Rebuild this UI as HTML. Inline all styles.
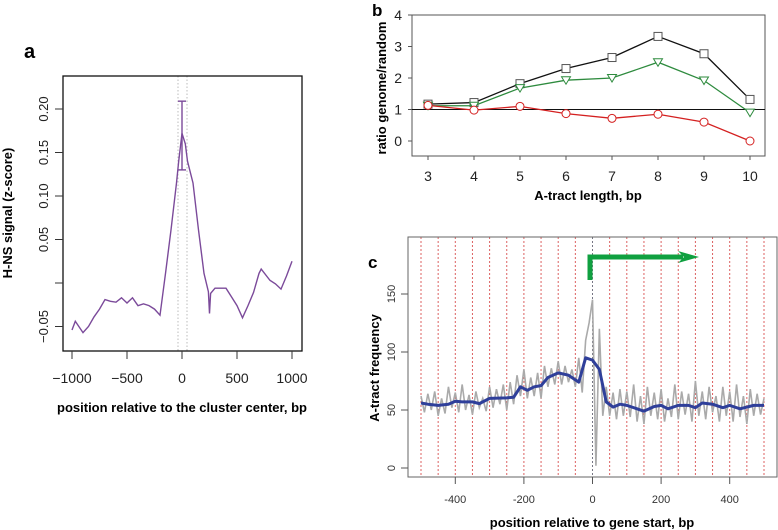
<!DOCTYPE html>
<html><head><meta charset="utf-8"><style>
body{margin:0;background:#fff}
svg{display:block;font-family:"Liberation Sans",Arial,sans-serif}
</style></head><body>
<svg id="fig" width="778" height="530" viewBox="0 0 778 530"></svg>
<script>
// ---- Panel a data ----
const aX=[-1000,-970,-900,-850,-800,-750,-700,-650,-600,-550,-500,-450,-400,-350,-300,-250,-200,-150,-100,-50,-30,0,30,50,100,150,200,240,250,260,300,350,400,450,500,550,600,650,700,720,800,850,900,950,1000];
const aY=[-0.054,-0.044,-0.057,-0.05,-0.039,-0.03,-0.019,-0.021,-0.022,-0.017,-0.023,-0.017,-0.026,-0.024,-0.026,-0.03,-0.037,0.011,0.061,0.115,0.14,0.172,0.16,0.14,0.115,0.061,0.011,-0.01,-0.035,-0.012,-0.006,-0.006,-0.006,-0.016,-0.026,-0.04,-0.026,-0.011,0.011,0.016,0.003,-0.001,-0.007,0.008,0.025];
const aTicksX=[-1000,-500,0,500,1000];
const aTicksY=[-0.05,0.05,0.10,0.15,0.20];
const aErr=[0.13,0.209];
// ---- Panel b data ----
const bCats=[3,4,5,6,7,8,9,10];
const bBlack=[1.17,1.22,1.82,2.3,2.65,3.32,2.77,1.32];
const bGreen=[1.12,1.12,1.68,1.93,2.0,2.5,1.92,0.9];
const bRed=[1.13,0.98,1.1,0.87,0.72,0.85,0.6,0.0];
const bTicksY=[0,1,2,3,4];
// ---- Panel c data ----
const cBlueX=[-500,-480,-450,-420,-400,-380,-350,-330,-300,-250,-230,-210,-190,-170,-150,-130,-100,-70,-40,-20,0,20,40,60,80,100,150,180,200,220,250,280,300,320,350,380,400,430,470,500];
const cBlueY=[56,55,54,55,57.5,57,57,55.5,60,60.5,61,70,67,70,71,78,82,80,74,95,93,85,57,52.5,55,54,49,53,54,51,54,54,52,56,55,52,54,51,54,54];
const cGray=[62,48,64,50,66,45,60,47,70,52,65,48,72,50,63,46,66,52,60,49,70,52,68,55,72,50,74,55,80,62,85,60,78,62,82,60,88,70,86,72,92,72,88,74,85,70,95,65,110,125,
145,2,120,45,70,45,65,42,68,45,66,44,72,40,62,38,70,45,65,42,68,40,60,44,72,42,66,46,64,40,75,45,66,42,70,48,62,40,70,45,66,40,72,44,62,38,68,45,64,46,60];
const cTicksX=[-400,-200,0,200,400];
const cTicksY=[0,50,100,150];

const NS="http://www.w3.org/2000/svg";
const svg=document.getElementById('fig');
function el(tag,attrs,parent,text){const e=document.createElementNS(NS,tag);for(const k in attrs)e.setAttribute(k,attrs[k]);if(text!==undefined)e.textContent=text;(parent||svg).appendChild(e);return e;}

// ===== Panel a =====
const ga=el('g',{});


const ax=v=>182+v*0.11, ay=v=>283-v*870;
let t=el('text',{x:24,y:58,'font-size':20,'font-weight':'bold'},ga,'a');

el('line',{x1:178,y1:76,x2:178,y2:351,stroke:'#bbb','stroke-dasharray':'1.5,2'},ga);
el('line',{x1:187,y1:76,x2:187,y2:351,stroke:'#bbb','stroke-dasharray':'1.5,2'},ga);
let r=el('rect',{x:63,y:76,width:239,height:275,fill:'none',stroke:'#111','stroke-width':1.3},ga);

aTicksX.forEach(v=>{el('line',{x1:ax(v),y1:351,x2:ax(v),y2:359,stroke:'#333'},ga);
 const tt=el('text',{x:ax(v),y:383,'font-size':14,'text-anchor':'middle',fill:'#222'},ga,v===-1000?'\u22121000':v===-500?'\u2212500':String(v));
 });
el('line',{x1:55,y1:ay(0),x2:63,y2:ay(0),stroke:'#333'},ga);
aTicksY.forEach(v=>{el('line',{x1:55,y1:ay(v),x2:63,y2:ay(v),stroke:'#333'},ga);
 const tt=el('text',{x:0,y:0,'font-size':13,'text-anchor':'middle',fill:'#222',transform:`translate(48,${ay(v)}) rotate(-90)`},ga,v<0?'\u22120.05':v.toFixed(2));
 });
let pa=el('polyline',{points:aX.map((x,i)=>ax(x)+','+ay(aY[i])).join(' '),fill:'none',stroke:'#7b4a9a','stroke-width':1.4},ga);

const eb=el('g',{stroke:'#7b4a9a','stroke-width':1.4},ga);

el('line',{x1:ax(0),y1:ay(aErr[0]),x2:ax(0),y2:ay(aErr[1])},eb);
el('line',{x1:ax(0)-4,y1:ay(aErr[0]),x2:ax(0)+4,y2:ay(aErr[0])},eb);
el('line',{x1:ax(0)-4,y1:ay(aErr[1]),x2:ax(0)+4,y2:ay(aErr[1])},eb);
t=el('text',{x:0,y:0,'font-size':13,'font-weight':'bold','text-anchor':'middle',transform:'translate(12,213) rotate(-90)'},ga,'H-NS signal (z-score)');

t=el('text',{x:182,y:412,'font-size':13,'font-weight':'bold','text-anchor':'middle'},ga,'position relative to the cluster center, bp');


// ===== Panel b =====
const gb=el('g',{});


const bx=v=>428+(v-3)*46, by=v=>141-v*31.5;
t=el('text',{x:372,y:16,'font-size':17,'font-weight':'bold'},gb,'b');

r=el('rect',{x:412,y:15,width:353,height:141,fill:'none',stroke:'#555','stroke-width':1},gb);

bTicksY.forEach(v=>{el('line',{x1:408,y1:by(v),x2:412,y2:by(v),stroke:'#555'},gb);
 const tt=el('text',{x:402,y:by(v)+5,'font-size':14,'text-anchor':'end',fill:'#222'},gb,String(v));
 });
bCats.forEach(v=>{el('line',{x1:bx(v),y1:156,x2:bx(v),y2:160,stroke:'#555'},gb);
 const tt=el('text',{x:bx(v),y:181,'font-size':14,'text-anchor':'middle',fill:'#222'},gb,String(v));
 });
let rl=el('line',{x1:412,y1:by(1),x2:765,y2:by(1),stroke:'#111','stroke-width':1},gb);

function series(vals,color,shape,name){
 const g=el('g',{},gb);
 
 el('polyline',{points:bCats.map((c,i)=>bx(c)+','+by(vals[i])).join(' '),fill:'none',stroke:color,'stroke-width':1.3},g);
 bCats.forEach((c,i)=>{const x=bx(c),y=by(vals[i]);let m;
  if(shape==='sq')m=el('rect',{x:x-4,y:y-4,width:8,height:8,fill:'#fff',stroke:'#555'},g);
  else if(shape==='tri')m=el('polygon',{points:`${x-4.5},${y-3.5} ${x+4.5},${y-3.5} ${x},${y+4}`,fill:'#fff',stroke:color},g);
  else m=el('circle',{cx:x,cy:y,r:4,fill:'#fff',stroke:color},g);
  });
}
series(bBlack,'#111','sq','series-black');
series(bGreen,'#2e8b3e','tri','series-green');
series(bRed,'#d42020','circ','series-red');
t=el('text',{x:0,y:0,'font-size':13,'font-weight':'bold','text-anchor':'middle',transform:'translate(386,88) rotate(-90)'},gb,'ratio genome/random');

t=el('text',{x:588,y:200,'font-size':13,'font-weight':'bold','text-anchor':'middle'},gb,'A-tract length, bp');


// ===== Panel c =====
const gc=el('g',{});


const cx=v=>592.5+v*0.343, cy=v=>468-v*1.16;
t=el('text',{x:368,y:268,'font-size':17,'font-weight':'bold'},gc,'c');

for(let v=-500;v<=500;v+=50){
 const l=el('line',{x1:cx(v),y1:237,x2:cx(v),y2:477,stroke:v===0?'#556':'#d43a3a','stroke-width':1,'stroke-dasharray':'2,2',opacity:0.8},gc);
 }
let gp=el('polyline',{points:cGray.map((v,i)=>cx(-500+i*10)+','+cy(v)).join(' '),fill:'none',stroke:'#aaa','stroke-width':1.6},gc);

let bp=el('polyline',{points:cBlueX.map((x,i)=>cx(x)+','+cy(cBlueY[i])).join(' '),fill:'none',stroke:'#2f3f9a','stroke-width':3,'stroke-linejoin':'round'},gc);

const ar=el('g',{},gc);

el('polyline',{points:'590,280 590,257 683,257',fill:'none',stroke:'#10a040','stroke-width':5},ar);
el('polygon',{points:'678,251 699,257 678,263 684,257',fill:'#10a040'},ar);
r=el('rect',{x:408,y:237,width:369,height:240,fill:'none',stroke:'#666','stroke-width':1},gc);

cTicksY.forEach(v=>{el('line',{x1:401,y1:cy(v),x2:408,y2:cy(v),stroke:'#555'},gc);
 const tt=el('text',{x:0,y:0,'font-size':11,'text-anchor':'middle',fill:'#333',transform:`translate(395,${cy(v)}) rotate(-90)`},gc,String(v));
 });
cTicksX.forEach(v=>{el('line',{x1:cx(v),y1:477,x2:cx(v),y2:484,stroke:'#555'},gc);
 const tt=el('text',{x:cx(v),y:503,'font-size':11,'text-anchor':'middle',fill:'#333'},gc,String(v));
 });
t=el('text',{x:0,y:0,'font-size':13,'font-weight':'bold','text-anchor':'middle',transform:'translate(379,368) rotate(-90)'},gc,'A-tract frequency');

t=el('text',{x:592,y:527,'font-size':13,'font-weight':'bold','text-anchor':'middle'},gc,'position relative to gene start, bp');

</script>
</body></html>
